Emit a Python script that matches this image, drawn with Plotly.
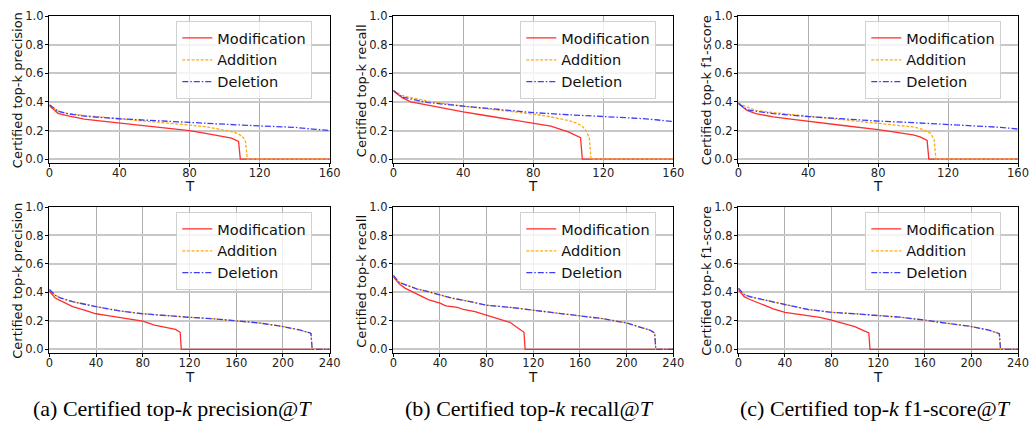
import plotly.graph_objects as go

# ---------------- data ----------------
# Top row: T in [0, 160]
t_top_mod = [0, 5, 10, 20, 30, 40, 60, 80, 90, 100, 104, 108, 109, 160]
t_top_add = [0, 5, 10, 20, 40, 60, 80, 90, 100, 105, 108, 110, 111, 112, 113, 160]
t_top_del = [0, 5, 10, 20, 40, 60, 80, 100, 120, 140, 150, 160]

prec_top_mod = [0.374, 0.32, 0.304, 0.28, 0.266, 0.252, 0.222, 0.199, 0.178, 0.159, 0.147, 0.124, 0.0, 0.0]
prec_top_add = [0.38, 0.335, 0.32, 0.305, 0.282, 0.262, 0.238, 0.225, 0.205, 0.19, 0.175, 0.16, 0.145, 0.12, 0.0, 0.0]
prec_top_del = [0.38, 0.335, 0.318, 0.30, 0.282, 0.268, 0.256, 0.244, 0.232, 0.222, 0.21, 0.20]

t_top_mod_r = [0, 5, 10, 20, 30, 40, 50, 60, 70, 80, 90, 100, 105, 107, 108, 160]
rec_top_mod = [0.477, 0.43, 0.40, 0.375, 0.355, 0.33, 0.31, 0.29, 0.275, 0.255, 0.23, 0.19, 0.165, 0.15, 0.0, 0.0]
t_top_add_r = [0, 5, 10, 20, 40, 60, 80, 90, 100, 105, 108, 110, 112, 113, 160]
rec_top_add = [0.48, 0.445, 0.43, 0.405, 0.37, 0.345, 0.315, 0.295, 0.27, 0.25, 0.23, 0.20, 0.15, 0.0, 0.0]
rec_top_del = [0.48, 0.435, 0.42, 0.395, 0.37, 0.345, 0.325, 0.31, 0.30, 0.285, 0.275, 0.262]

f1_top_mod = [0.39, 0.34, 0.318, 0.295, 0.28, 0.264, 0.235, 0.206, 0.19, 0.17, 0.155, 0.13, 0.0, 0.0]
t_top_add_f = [0, 10, 20, 40, 60, 80, 90, 100, 105, 108, 110, 112, 113, 160]
f1_top_add = [0.39, 0.34, 0.325, 0.30, 0.28, 0.255, 0.24, 0.225, 0.21, 0.195, 0.18, 0.14, 0.0, 0.0]
f1_top_del = [0.39, 0.345, 0.335, 0.318, 0.297, 0.28, 0.266, 0.255, 0.243, 0.233, 0.222, 0.21]

# Bottom row: T in [0, 240]
t_bot_mod = [0, 5, 10, 20, 30, 40, 50, 60, 70, 80, 90, 100, 108, 112, 113, 240]
t_bot_del = [0, 5, 10, 20, 40, 60, 80, 100, 120, 140, 160, 180, 200, 215, 223, 224, 225, 240]

prec_bot_mod = [0.41, 0.36, 0.34, 0.30, 0.275, 0.25, 0.237, 0.225, 0.212, 0.198, 0.17, 0.155, 0.14, 0.12, 0.0, 0.0]
prec_bot_del = [0.42, 0.38, 0.36, 0.335, 0.30, 0.27, 0.25, 0.235, 0.225, 0.215, 0.20, 0.185, 0.16, 0.135, 0.115, 0.11, 0.0, 0.0]
prec_bot_add = prec_bot_del

t_bot_mod_r = [0, 5, 10, 20, 30, 40, 45, 55, 60, 70, 80, 90, 100, 105, 110, 112, 113, 240]
rec_bot_mod = [0.51, 0.46, 0.43, 0.39, 0.35, 0.325, 0.305, 0.295, 0.28, 0.265, 0.24, 0.215, 0.19, 0.16, 0.13, 0.12, 0.0, 0.0]
t_bot_del_r = [0, 5, 10, 20, 30, 40, 50, 60, 80, 100, 120, 140, 160, 180, 200, 210, 220, 224, 225, 240]
rec_bot_del = [0.52, 0.47, 0.455, 0.425, 0.405, 0.38, 0.36, 0.345, 0.31, 0.295, 0.275, 0.26, 0.24, 0.215, 0.185, 0.16, 0.135, 0.115, 0.0, 0.0]
rec_bot_add = rec_bot_del

t_bot_mod_f = [0, 5, 10, 20, 30, 40, 50, 60, 70, 80, 90, 100, 108, 112, 113, 240]
f1_bot_mod = [0.42, 0.37, 0.35, 0.315, 0.285, 0.26, 0.25, 0.235, 0.225, 0.205, 0.18, 0.16, 0.13, 0.115, 0.0, 0.0]
f1_bot_del = [0.43, 0.385, 0.37, 0.35, 0.315, 0.28, 0.26, 0.25, 0.24, 0.225, 0.205, 0.185, 0.16, 0.135, 0.115, 0.11, 0.0, 0.0]
f1_bot_add = f1_bot_del

series_names = ["Modification", "Addition", "Deletion"]
y_titles = ["Certified top-k precision", "Certified top-k recall", "Certified top-k f1-score"]
x_ticks_top = [0, 40, 80, 120, 160]
x_ticks_bot = [0, 40, 80, 120, 160, 200, 240]
y_ticks = [0.0, 0.2, 0.4, 0.6, 0.8, 1.0]
captions = ["(a) Certified top-<i>k</i> precision@<i>T</i>",
            "(b) Certified top-<i>k</i> recall@<i>T</i>",
            "(c) Certified top-<i>k</i> f1-score@<i>T</i>"]

# panel -> list of (T, values) for Modification, Addition, Deletion
panels = [
    [(t_top_mod, prec_top_mod), (t_top_add, prec_top_add), (t_top_del, prec_top_del)],
    [(t_top_mod_r, rec_top_mod), (t_top_add_r, rec_top_add), (t_top_del, rec_top_del)],
    [(t_top_mod, f1_top_mod), (t_top_add_f, f1_top_add), (t_top_del, f1_top_del)],
    [(t_bot_mod, prec_bot_mod), (t_bot_del, prec_bot_add), (t_bot_del, prec_bot_del)],
    [(t_bot_mod_r, rec_bot_mod), (t_bot_del_r, rec_bot_add), (t_bot_del_r, rec_bot_del)],
    [(t_bot_mod_f, f1_bot_mod), (t_bot_del, f1_bot_add), (t_bot_del, f1_bot_del)],
]

# ---------------- styling ----------------
W, H = 1029, 424
styles = [
    dict(color="rgb(255,45,45)", dash="solid"),
    dict(color="rgb(255,170,20)", dash="3px,1.6px"),
    dict(color="rgb(60,60,255)", dash="6px,2px,1.5px,2px"),
]
col_px = [(49.3, 329.7), (393.3, 673.3), (738.3, 1018.0)]
row_px = [(16.0, 162.7), (207.0, 352.9)]
t_offset = [23.5, 24.5]
FONT = "DejaVu Sans"

fig = go.Figure()
layout = dict(
    width=W, height=H, autosize=False, margin=dict(l=0, r=0, t=0, b=0, autoexpand=False),
    paper_bgcolor="white", plot_bgcolor="white", showlegend=True,
    font=dict(family=FONT, color="#111"),
)
annotations = []

for p, data in enumerate(panels):
    r, c = divmod(p, 3)
    idx = p + 1
    xa = "xaxis" if idx == 1 else f"xaxis{idx}"
    ya = "yaxis" if idx == 1 else f"yaxis{idx}"
    xr = "x" if idx == 1 else f"x{idx}"
    yr = "y" if idx == 1 else f"y{idx}"
    lg = "legend" if idx == 1 else f"legend{idx}"
    x0, x1 = col_px[c]
    y0, y1 = row_px[r]
    xmax = 160 if r == 0 else 240
    ticks = x_ticks_top if r == 0 else x_ticks_bot
    layout[xa] = dict(
        domain=[x0 / W, x1 / W], anchor=yr, range=[0, xmax],
        tickvals=ticks, ticks="outside", ticklen=3.5, tickcolor="black",
        tickfont=dict(size=11.5, family=FONT, color="#222"), ticklabelstandoff=-4,
        showgrid=True, gridcolor="#b0b0b0", gridwidth=1,
        showline=True, linecolor="black", linewidth=1, mirror=True,
        zeroline=False, automargin=False,
    )
    layout[ya] = dict(
        domain=[1 - y1 / H, 1 - y0 / H], anchor=xr, range=[-0.025, 1.0],
        tickvals=y_ticks, ticktext=[f"{v:.1f}" for v in y_ticks],
        ticks="outside", ticklen=3.5, tickcolor="black",
        tickfont=dict(size=11.5, family=FONT, color="#222"), ticklabelstandoff=-1,
        showgrid=True, gridcolor="#c8c8c8", gridwidth=1.5,
        showline=True, linecolor="black", linewidth=1, mirror=True,
        zeroline=False, automargin=False,
    )
    layout[lg] = dict(
        x=(x0 + 127) / W, y=1 - (y0 + 5) / H, xanchor="left", yanchor="top",
        bgcolor="rgba(255,255,255,0.8)", bordercolor="#d0d0d0", borderwidth=1,
        font=dict(size=14.5, family=FONT, color="#111"), itemwidth=30,
        tracegroupgap=0,
    )
    for s, (tv, vals) in enumerate(data):
        fig.add_trace(go.Scatter(
            x=tv, y=vals, mode="lines", name=series_names[s],
            line=dict(color=styles[s]["color"], dash=styles[s]["dash"], width=1.3),
            xaxis=xr, yaxis=yr, legend=lg,
        ))
    # axis titles
    annotations.append(dict(
        text="T", x=(x0 + x1) / 2 / W, y=1 - (y1 + t_offset[r]) / H, xref="paper", yref="paper",
        showarrow=False, font=dict(size=13.5, family=FONT, color="#111"),
        xanchor="center", yanchor="middle",
    ))
    annotations.append(dict(
        text=y_titles[c], x=(x0 - 31.5) / W, y=1 - ((y0 + y1) / 2 + 1) / H,
        xref="paper", yref="paper", showarrow=False, textangle=-90,
        font=dict(size=13, family=FONT, color="#111"), xanchor="center", yanchor="middle",
    ))

caption_x = [172, 529, 875]
for c in range(3):
    annotations.append(dict(
        text=captions[c], x=caption_x[c] / W, y=1 - 408 / H, xref="paper", yref="paper",
        showarrow=False, font=dict(size=22, family="Liberation Serif", color="black"),
        xanchor="center", yanchor="middle",
    ))

layout["annotations"] = annotations
fig.update_layout(**layout)
fig.write_html(
    "out.html",
    config={"responsive": False, "displayModeBar": False},
    post_script="document.body.style.margin='0px';document.body.style.padding='0px';",
)
